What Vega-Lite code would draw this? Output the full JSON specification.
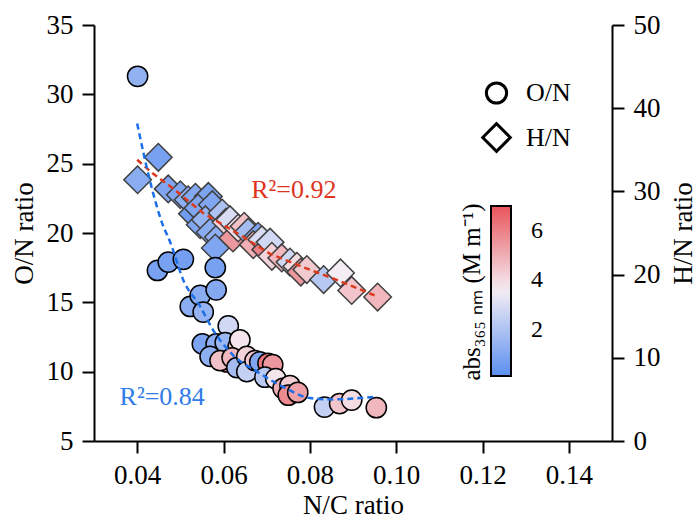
{
  "$schema": "https://vega.github.io/schema/vega-lite/v6.json",
  "width": 518,
  "height": 416,
  "autosize": {"type": "none"},
  "padding": {"left": 94, "top": 25, "right": 87, "bottom": 82},
  "background": "white",
  "config": {
    "font": "Liberation Serif",
    "view": {"stroke": null},
    "axis": {
      "labelFont": "Liberation Serif", "titleFont": "Liberation Serif",
      "labelFontSize": 27, "titleFontSize": 27, "titleFontWeight": "normal",
      "labelColor": "black", "titleColor": "black",
      "domainColor": "black", "tickColor": "black",
      "domainWidth": 2, "tickWidth": 2, "tickSize": 12, "grid": false, "labelPadding": 9
    },
    "legend": {
      "labelFont": "Liberation Serif", "titleFont": "Liberation Serif", "labelColor": "black", "titleColor": "black",
      "labelFontSize": 24, "titleFontWeight": "normal"
    }
  },
  "datasets": {
    "on": [
      {"nc": 0.0401, "on": 31.3, "abs": 1.4, "series": "O/N"},
      {"nc": 0.0447, "on": 17.3, "abs": 0.8, "series": "O/N"},
      {"nc": 0.0472, "on": 17.9, "abs": 0.8, "series": "O/N"},
      {"nc": 0.0507, "on": 18.1, "abs": 0.7, "series": "O/N"},
      {"nc": 0.0523, "on": 14.7, "abs": 1.2, "series": "O/N"},
      {"nc": 0.0546, "on": 15.5, "abs": 1.2, "series": "O/N"},
      {"nc": 0.0553, "on": 14.3, "abs": 1.5, "series": "O/N"},
      {"nc": 0.0581, "on": 17.5, "abs": 0.8, "series": "O/N"},
      {"nc": 0.0583, "on": 15.9, "abs": 1.1, "series": "O/N"},
      {"nc": 0.0551, "on": 12.0, "abs": 0.9, "series": "O/N"},
      {"nc": 0.0583, "on": 12.0, "abs": 1.3, "series": "O/N"},
      {"nc": 0.0569, "on": 11.1, "abs": 1.3, "series": "O/N"},
      {"nc": 0.0611, "on": 13.3, "abs": 2.8, "series": "O/N"},
      {"nc": 0.0604, "on": 12.1, "abs": 1.6, "series": "O/N"},
      {"nc": 0.0634, "on": 11.8, "abs": 4.3, "series": "O/N"},
      {"nc": 0.0638, "on": 12.3, "abs": 3.8, "series": "O/N"},
      {"nc": 0.0608, "on": 10.7, "abs": 5.8, "series": "O/N"},
      {"nc": 0.0592, "on": 10.8, "abs": 4.6, "series": "O/N"},
      {"nc": 0.0620, "on": 11.0, "abs": 4.8, "series": "O/N"},
      {"nc": 0.0631, "on": 10.3, "abs": 1.8, "series": "O/N"},
      {"nc": 0.0654, "on": 11.1, "abs": 4.2, "series": "O/N"},
      {"nc": 0.0654, "on": 10.0, "abs": 2.5, "series": "O/N"},
      {"nc": 0.0673, "on": 10.8, "abs": 4.5, "series": "O/N"},
      {"nc": 0.0684, "on": 10.7, "abs": 1.0, "series": "O/N"},
      {"nc": 0.0703, "on": 10.6, "abs": 6.2, "series": "O/N"},
      {"nc": 0.0714, "on": 10.5, "abs": 5.5, "series": "O/N"},
      {"nc": 0.0696, "on": 9.6, "abs": 2.3, "series": "O/N"},
      {"nc": 0.0721, "on": 9.5, "abs": 3.8, "series": "O/N"},
      {"nc": 0.0738, "on": 8.8, "abs": 5.0, "series": "O/N"},
      {"nc": 0.0754, "on": 9.0, "abs": 4.3, "series": "O/N"},
      {"nc": 0.0750, "on": 8.3, "abs": 5.8, "series": "O/N"},
      {"nc": 0.0772, "on": 8.5, "abs": 5.3, "series": "O/N"},
      {"nc": 0.0834, "on": 7.45, "abs": 2.5, "series": "O/N"},
      {"nc": 0.0869, "on": 7.7, "abs": 4.5, "series": "O/N"},
      {"nc": 0.0897, "on": 7.95, "abs": 4.0, "series": "O/N"},
      {"nc": 0.0954, "on": 7.4, "abs": 4.8, "series": "O/N"}
    ],
    "hn": [
      {"nc": 0.0401, "hn": 31.4, "abs": 1.2, "series": "H/N"},
      {"nc": 0.0449, "hn": 34.1, "abs": 0.8, "series": "H/N"},
      {"nc": 0.0472, "hn": 30.3, "abs": 1.0, "series": "H/N"},
      {"nc": 0.0500, "hn": 29.6, "abs": 1.0, "series": "H/N"},
      {"nc": 0.0518, "hn": 29.0, "abs": 1.3, "series": "H/N"},
      {"nc": 0.0535, "hn": 29.3, "abs": 1.1, "series": "H/N"},
      {"nc": 0.0565, "hn": 29.4, "abs": 0.9, "series": "H/N"},
      {"nc": 0.0528, "hn": 27.3, "abs": 0.6, "series": "H/N"},
      {"nc": 0.0541, "hn": 28.0, "abs": 1.0, "series": "H/N"},
      {"nc": 0.0574, "hn": 28.4, "abs": 1.0, "series": "H/N"},
      {"nc": 0.0546, "hn": 26.0, "abs": 1.0, "series": "H/N"},
      {"nc": 0.0558, "hn": 26.6, "abs": 1.5, "series": "H/N"},
      {"nc": 0.0597, "hn": 27.4, "abs": 2.0, "series": "H/N"},
      {"nc": 0.0569, "hn": 25.1, "abs": 1.2, "series": "H/N"},
      {"nc": 0.0588, "hn": 24.5, "abs": 1.3, "series": "H/N"},
      {"nc": 0.0581, "hn": 23.2, "abs": 1.0, "series": "H/N"},
      {"nc": 0.0606, "hn": 26.3, "abs": 4.2, "series": "H/N"},
      {"nc": 0.0615, "hn": 26.6, "abs": 3.0, "series": "H/N"},
      {"nc": 0.0622, "hn": 24.4, "abs": 5.5, "series": "H/N"},
      {"nc": 0.0634, "hn": 25.6, "abs": 4.0, "series": "H/N"},
      {"nc": 0.0648, "hn": 25.8, "abs": 4.6, "series": "H/N"},
      {"nc": 0.0657, "hn": 25.1, "abs": 1.8, "series": "H/N"},
      {"nc": 0.0680, "hn": 24.6, "abs": 1.0, "series": "H/N"},
      {"nc": 0.0669, "hn": 23.6, "abs": 5.0, "series": "H/N"},
      {"nc": 0.0689, "hn": 24.2, "abs": 3.0, "series": "H/N"},
      {"nc": 0.0698, "hn": 23.0, "abs": 6.0, "series": "H/N"},
      {"nc": 0.0708, "hn": 23.9, "abs": 2.8, "series": "H/N"},
      {"nc": 0.0712, "hn": 22.2, "abs": 4.2, "series": "H/N"},
      {"nc": 0.0735, "hn": 22.0, "abs": 4.8, "series": "H/N"},
      {"nc": 0.0754, "hn": 21.5, "abs": 2.8, "series": "H/N"},
      {"nc": 0.0770, "hn": 21.0, "abs": 4.0, "series": "H/N"},
      {"nc": 0.0779, "hn": 20.3, "abs": 5.5, "series": "H/N"},
      {"nc": 0.0793, "hn": 20.6, "abs": 4.4, "series": "H/N"},
      {"nc": 0.0832, "hn": 19.4, "abs": 2.2, "series": "H/N"},
      {"nc": 0.0871, "hn": 20.2, "abs": 3.6, "series": "H/N"},
      {"nc": 0.0897, "hn": 18.1, "abs": 4.5, "series": "H/N"},
      {"nc": 0.0957, "hn": 17.3, "abs": 4.8, "series": "H/N"}
    ],
    "onfit": [
      {"nc": 0.0400, "on": 27.9}, {"nc": 0.0427, "on": 24.1}, {"nc": 0.0458, "on": 20.7},
      {"nc": 0.0477, "on": 19.3}, {"nc": 0.0507, "on": 16.6}, {"nc": 0.0546, "on": 14.7},
      {"nc": 0.0576, "on": 13.0}, {"nc": 0.0622, "on": 11.2}, {"nc": 0.0678, "on": 10.0},
      {"nc": 0.0738, "on": 8.9}, {"nc": 0.0800, "on": 8.1}, {"nc": 0.0853, "on": 8.0},
      {"nc": 0.0954, "on": 8.2}
    ],
    "hnfit": [
      {"nc": 0.0400, "hn": 33.8}, {"nc": 0.0435, "hn": 32.2}, {"nc": 0.0477, "hn": 30.6},
      {"nc": 0.0515, "hn": 29.0}, {"nc": 0.0553, "hn": 27.4}, {"nc": 0.0631, "hn": 25.0},
      {"nc": 0.0708, "hn": 22.5}, {"nc": 0.0784, "hn": 20.9}, {"nc": 0.0861, "hn": 19.4},
      {"nc": 0.0950, "hn": 17.5}
    ],
    "one": [{"k": 1}]
  },
  "resolve": {"scale": {"y": "independent"}},
  "layer": [
    {
      "layer": [
        {
          "data": {"name": "hn"},
          "mark": {"type": "point", "filled": true, "opacity": 1, "stroke": "#404040", "strokeWidth": 1.5},
          "encoding": {
            "x": {"field": "nc", "type": "quantitative", "scale": {"domain": [0.03, 0.15], "nice": false, "zero": false},
                  "axis": {"values": [0.04, 0.06, 0.08, 0.10, 0.12, 0.14], "format": ".2f", "title": "N/C ratio", "titlePadding": 4}},
            "y": {"field": "hn", "type": "quantitative", "scale": {"domain": [0, 50], "nice": false, "zero": false},
                  "axis": {"orient": "right", "values": [0, 10, 20, 30, 40, 50], "title": "H/N ratio", "titleAngle": 270, "titleBaseline": "top", "titlePadding": 10}},
            "color": {"field": "abs", "type": "quantitative",
                      "scale": {"domain": [0.15, 3.6, 7], "range": ["#5b8ff0", "#f4eef4", "#e8545a"], "interpolate": "rgb"},
                      "legend": {"orient": "none", "legendX": 366, "legendY": 181, "direction": "vertical",
                                 "gradientLength": 170, "gradientThickness": 20, "gradientStrokeColor": "black", "gradientStrokeWidth": 2,
                                 "values": [2, 4, 6], "title": "abs₃₆₅ ₙₘ (M m⁻¹)", "titleOrient": "left", "titleAngle": 270,
                                 "titleAnchor": "middle", "titleFontSize": 25, "labelFontSize": 24, "labelOffset": 20,
                                 "encode": {"labels": {"update": {"fontSize": {"value": 24}, "font": {"value": "Liberation Serif"}}}}}},
            "shape": {"field": "series", "type": "nominal", "scale": {"domain": ["O/N", "H/N"], "range": ["circle", "diamond"]},
                      "legend": {"orient": "none", "legendX": 387, "legendY": 55, "title": null, "labelFontSize": 26,
                                 "symbolFillColor": "white", "symbolStrokeColor": "black", "symbolStrokeWidth": 3,
                                 "rowPadding": 7, "labelOffset": 14}},
            "size": {"field": "series", "type": "nominal", "scale": {"domain": ["O/N", "H/N"], "range": [410, 760]},
                     "legend": {"orient": "none", "legendX": 387, "legendY": 55, "title": null, "labelFontSize": 26,
                                "symbolFillColor": "white", "symbolStrokeColor": "black", "symbolStrokeWidth": 3,
                                "rowPadding": 7, "labelOffset": 14}}
          }
        },
        {
          "data": {"name": "hnfit"},
          "mark": {"type": "line", "color": "#db3a1f", "strokeDash": [6, 4], "strokeWidth": 2.5},
          "encoding": {
            "x": {"field": "nc", "type": "quantitative"},
            "y": {"field": "hn", "type": "quantitative", "title": "H/N ratio"}
          }
        },
        {
          "data": {"name": "one"},
          "mark": {"type": "text", "text": "R²=0.92", "color": "#e0341e", "font": "Liberation Serif", "fontSize": 26},
          "encoding": {
            "x": {"datum": 0.0763, "type": "quantitative"},
            "y": {"datum": 30.2, "type": "quantitative", "title": "H/N ratio"}
          }
        }
      ]
    },
    {
      "layer": [
        {
          "data": {"name": "on"},
          "mark": {"type": "point", "filled": true, "opacity": 1, "stroke": "black", "strokeWidth": 1.5},
          "encoding": {
            "x": {"field": "nc", "type": "quantitative"},
            "y": {"field": "on", "type": "quantitative", "scale": {"domain": [5, 35], "nice": false, "zero": false},
                  "axis": {"orient": "left", "values": [5, 10, 15, 20, 25, 30, 35], "title": "O/N ratio", "titlePadding": 8}},
            "color": {"field": "abs", "type": "quantitative",
                      "legend": {"orient": "none", "legendX": 366, "legendY": 181, "direction": "vertical",
                                 "gradientLength": 170, "gradientThickness": 20, "gradientStrokeColor": "black", "gradientStrokeWidth": 2,
                                 "values": [2, 4, 6], "title": "abs₃₆₅ ₙₘ (M m⁻¹)", "titleOrient": "left", "titleAngle": 270,
                                 "titleAnchor": "middle", "titleFontSize": 25, "labelFontSize": 24, "labelOffset": 20,
                                 "encode": {"labels": {"update": {"fontSize": {"value": 24}, "font": {"value": "Liberation Serif"}}}}}},
            "shape": {"field": "series", "type": "nominal",
                      "legend": {"orient": "none", "legendX": 387, "legendY": 55, "title": null, "labelFontSize": 26,
                                 "symbolFillColor": "white", "symbolStrokeColor": "black", "symbolStrokeWidth": 3,
                                 "rowPadding": 7, "labelOffset": 14}},
            "size": {"field": "series", "type": "nominal",
                     "legend": {"orient": "none", "legendX": 387, "legendY": 55, "title": null, "labelFontSize": 26,
                                "symbolFillColor": "white", "symbolStrokeColor": "black", "symbolStrokeWidth": 3,
                                "rowPadding": 7, "labelOffset": 14}}
          }
        },
        {
          "data": {"name": "onfit"},
          "mark": {"type": "line", "color": "#1c6fe6", "strokeDash": [6, 4], "strokeWidth": 2.5, "interpolate": "monotone"},
          "encoding": {
            "x": {"field": "nc", "type": "quantitative"},
            "y": {"field": "on", "type": "quantitative", "title": "O/N ratio"}
          }
        },
        {
          "data": {"name": "one"},
          "mark": {"type": "text", "text": "R²=0.84", "color": "#2f7be8", "font": "Liberation Serif", "fontSize": 26},
          "encoding": {
            "x": {"datum": 0.0458, "type": "quantitative"},
            "y": {"datum": 8.2, "type": "quantitative", "title": "O/N ratio"}
          }
        }
      ]
    }
  ]
}
